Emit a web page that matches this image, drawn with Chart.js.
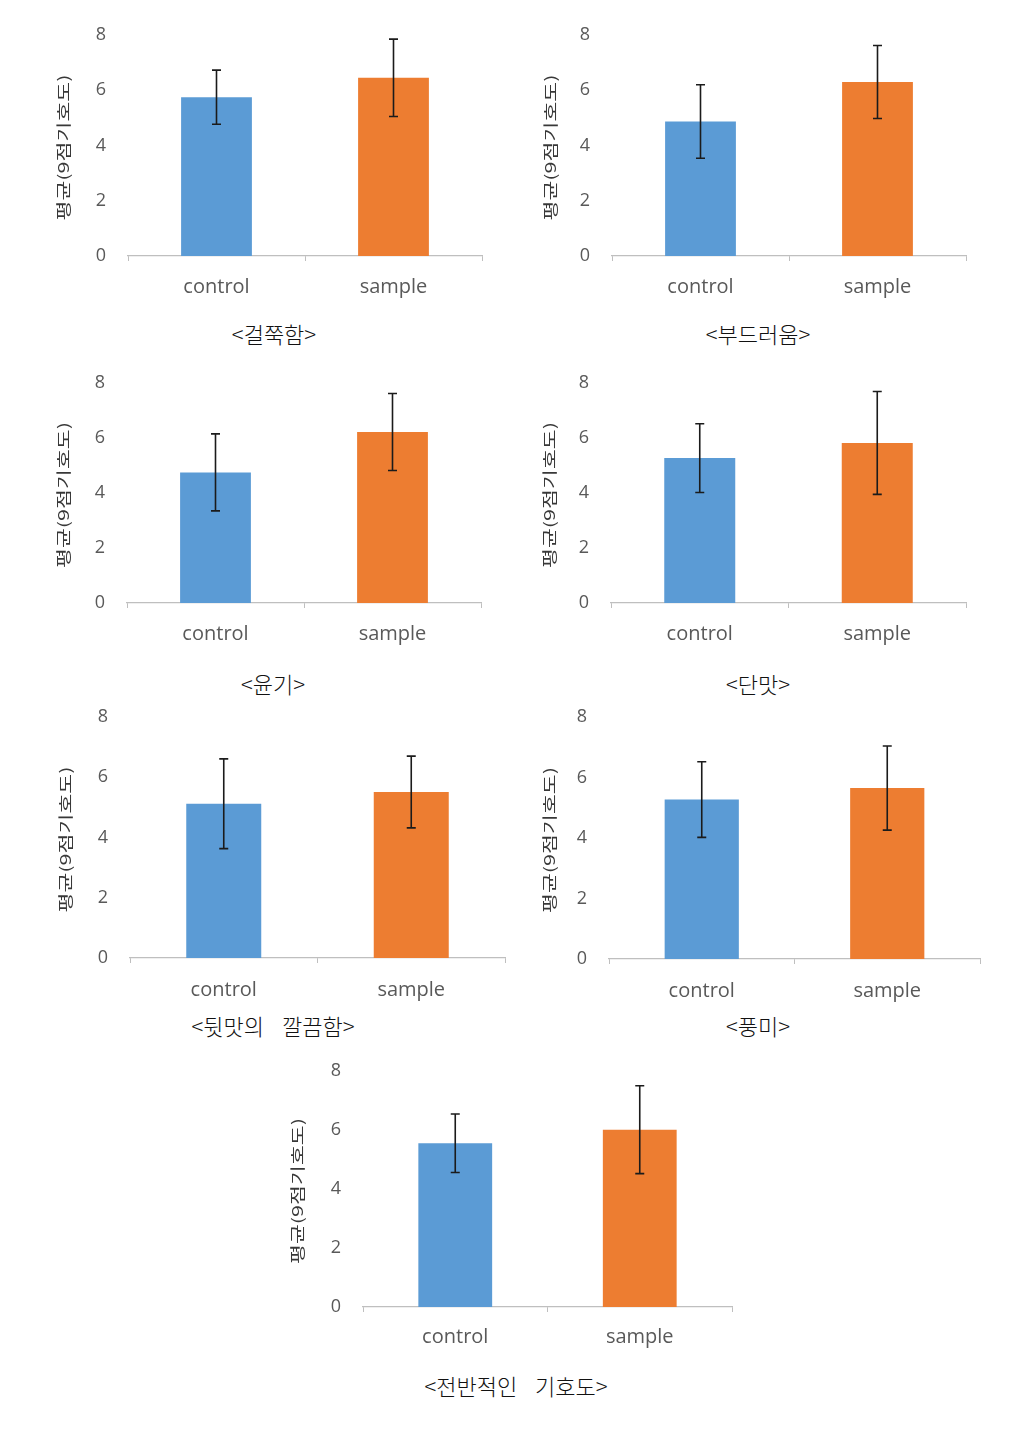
<!DOCTYPE html>
<html>
<head>
<meta charset="utf-8">
<script src="https://cdn.jsdelivr.net/npm/chart.js@4.4.1/dist/chart.umd.min.js"></script>
<style>
  html, body { margin: 0; padding: 0; background: #ffffff; }
  body { width: 1036px; height: 1432px; position: relative; overflow: hidden; }
  .box { position: absolute; }
  .cap { position: absolute; transform: translate(-50%, -50%); white-space: nowrap;
         font-family: "Noto Sans CJK KR", sans-serif; font-weight: 300; font-size: 22px; color: #111; word-spacing: 13px; }
</style>
</head>
<body>
<script>
// ---------------- DATA ----------------
const categories = ['control', 'sample'];
const captions = ['<걸쭉함>', '<부드러움>', '<윤기>', '<단맛>', '<뒷맛의 깔끔함>', '<풍미>', '<전반적인 기호도>'];
const yAxisTitle = '평균(9점기호도)';
const yMin = 0, yMax = 8, yStep = 2;
const meanControl = [5.75, 4.87, 4.75, 5.27, 5.12, 5.27, 5.55];
const meanSample  = [6.45, 6.30, 6.22, 5.82, 5.51, 5.65, 6.01];
const sdControl   = [0.98, 1.33, 1.40, 1.25, 1.49, 1.25, 0.99];
const sdSample    = [1.40, 1.32, 1.40, 1.87, 1.19, 1.39, 1.49];

// ---------------- LAYOUT (page px) ----------------
const panels = [
  { L: 128, R: 482, T: 35,   B: 256,  titleX: 63,  gap: 14, capX: 274, capY: 333 },
  { L: 612, R: 966, T: 35,   B: 256,  titleX: 550, gap: 14, capX: 758, capY: 333 },
  { L: 127, R: 481, T: 383,  B: 603,  titleX: 63,  gap: 14, capX: 273, capY: 683 },
  { L: 611, R: 966, T: 383,  B: 603,  titleX: 549, gap: 14, capX: 758, capY: 683 },
  { L: 130, R: 505, T: 717,  B: 958,  titleX: 65,  gap: 15, capX: 273, capY: 1025 },
  { L: 609, R: 980, T: 717,  B: 959,  titleX: 549, gap: 15, capX: 758, capY: 1025 },
  { L: 363, R: 732, T: 1071, B: 1307, titleX: 297, gap: 13, capX: 516, capY: 1385 }
];
const colors = ['#5B9BD5', '#ED7D31'];
const AXW = 90, PADT = 45, PADR = 15, XH = 50;

const errorBarPlugin = {
  id: 'errorBars',
  afterDatasetsDraw(chart) {
    const ctx = chart.ctx;
    const meta = chart.getDatasetMeta(0);
    const ys = chart.scales.y;
    const ds = chart.data.datasets[0];
    ctx.save();
    ctx.strokeStyle = '#1b1b1b';
    ctx.lineWidth = 1.6;
    meta.data.forEach((bar, i) => {
      const v = ds.data[i], e = ds.errors[i];
      const yt = ys.getPixelForValue(v + e);
      const yb = ys.getPixelForValue(v - e);
      const x = bar.x;
      ctx.beginPath();
      ctx.moveTo(x, yt); ctx.lineTo(x, yb);
      ctx.moveTo(x - 4.5, yt); ctx.lineTo(x + 4.5, yt);
      ctx.moveTo(x - 4.5, yb); ctx.lineTo(x + 4.5, yb);
      ctx.stroke();
    });
    ctx.restore();
  }
};

const yTitlePlugin = {
  id: 'yTitle',
  afterDraw(chart, args, opts) {
    const ctx = chart.ctx;
    const ca = chart.chartArea;
    ctx.save();
    ctx.translate(opts.x, (ca.top + ca.bottom) / 2 + 2);
    ctx.rotate(-Math.PI / 2);
    ctx.font = '15px "Noto Sans CJK KR"';
    const w = ctx.measureText(opts.text).width;
    ctx.scale(opts.len / w, 1);
    ctx.fillStyle = '#383838';
    ctx.textAlign = 'center';
    ctx.textBaseline = 'middle';
    ctx.fillText(opts.text, 0, 0);
    ctx.restore();
  }
};

panels.forEach((p, i) => {
  const left = p.L - AXW, top = p.T - PADT;
  const width = p.R + PADR - left, height = p.B + XH - top;
  const box = document.createElement('div');
  box.className = 'box';
  box.style.left = left + 'px'; box.style.top = top + 'px';
  box.style.width = width + 'px'; box.style.height = height + 'px';
  const cv = document.createElement('canvas');
  box.appendChild(cv);
  document.body.appendChild(box);

  const cap = document.createElement('div');
  cap.className = 'cap';
  cap.textContent = captions[i];
  cap.style.left = p.capX + 'px'; cap.style.top = p.capY + 'px';
  document.body.appendChild(cap);

  new Chart(cv, {
    type: 'bar',
    data: {
      labels: categories,
      datasets: [{
        data: [meanControl[i], meanSample[i]],
        errors: [sdControl[i], sdSample[i]],
        backgroundColor: colors,
        borderWidth: 0,
        barPercentage: 0.4,
        categoryPercentage: 1.0
      }]
    },
    options: {
      responsive: true,
      maintainAspectRatio: false,
      animation: false,
      events: [],
      layout: { padding: { left: 0, top: PADT, right: PADR, bottom: 0 } },
      plugins: {
        legend: { display: false },
        tooltip: { enabled: false },
        yTitle: { text: yAxisTitle, x: p.titleX - left, len: 146 }
      },
      scales: {
        x: {
          grid: { display: true, drawOnChartArea: false, drawTicks: true, tickLength: 5, color: '#bfbfbf', offset: true },
          border: { display: true, color: '#bfbfbf', width: 1.2 },
          ticks: { color: '#595959', font: { family: 'Open Sans', size: 20 }, padding: p.gap },
          afterFit(s) { s.height = XH; }
        },
        y: {
          min: yMin, max: yMax,
          grid: { display: false, drawTicks: false },
          border: { display: false },
          ticks: { stepSize: yStep, color: '#595959', font: { family: 'Open Sans', size: 18 }, padding: 22 },
          afterFit(s) { s.width = AXW; }
        }
      }
    },
    plugins: [errorBarPlugin, yTitlePlugin]
  });
});
</script>
</body>
</html>
